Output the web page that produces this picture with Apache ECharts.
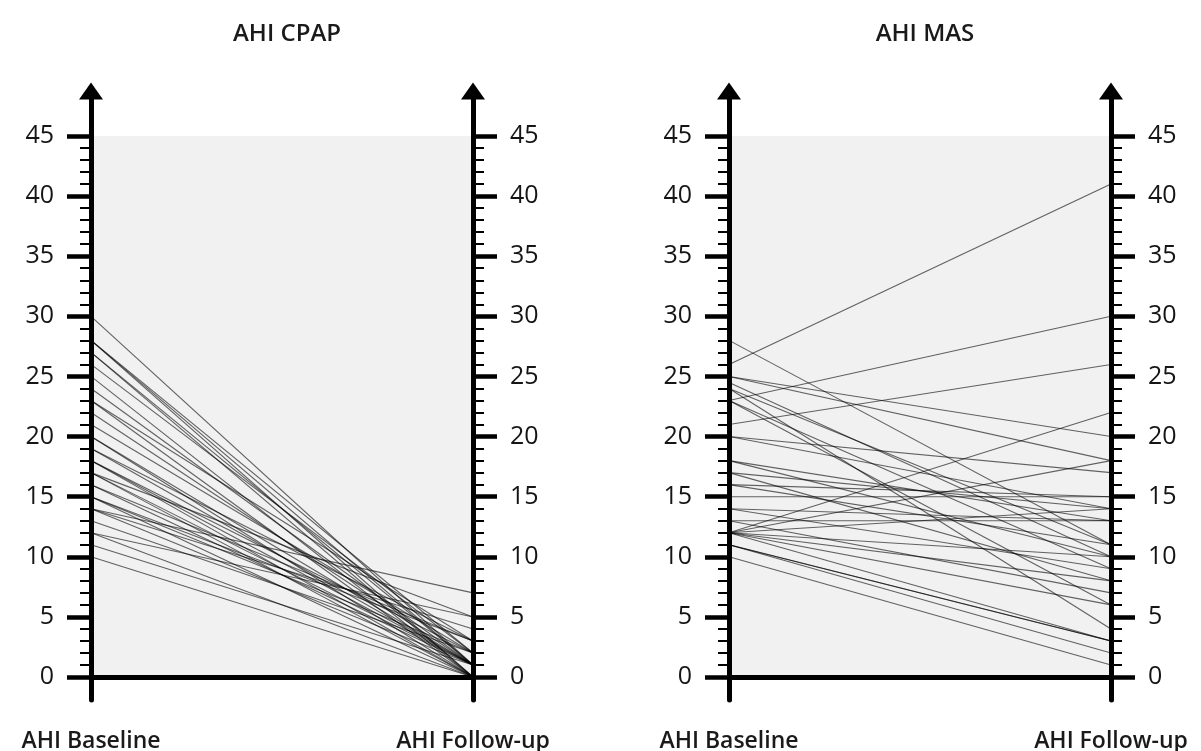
<!DOCTYPE html>
<html>
<head>
<meta charset="utf-8">
<script src="https://cdn.jsdelivr.net/npm/echarts@6/dist/echarts.min.js"></script>
<style>
html,body{margin:0;padding:0;background:#fff;}
#chart{width:1201px;height:751px;}
</style>
</head>
<body>
<div id="chart"></div>
<script>
// ---- data ----
const panelTitles = ['AHI CPAP', 'AHI MAS'];
const categories = ['AHI Baseline', 'AHI Follow-up'];
const majorTicks = [0, 5, 10, 15, 20, 25, 30, 35, 40, 45];
const minorTicks = [0,1,2,3,4,5,6,7,8,9,10,11,12,13,14,15,16,17,18,19,20,21,22,23,24,25,26,27,28,29,30,31,32,33,34,35,36,37,38,39,40,41,42,43,44,45];

// CPAP: baseline / follow-up pairs
const cpapBaseline = [30,28,28,28,27,27,26,25,24,23,23,22,21,20,20,19,19,18,18,18,17,17,17,16,16,15,15,15,14,14,14,13,12,12,11,10];
const cpapFollowup = [ 1, 0, 1, 2, 0, 1, 2, 0, 1, 0, 3, 1, 2, 1, 0, 3, 1, 2, 0, 1, 5, 1, 0, 3, 1, 2, 0, 3, 7, 1, 4, 2, 5, 0, 1, 0];

// MAS: baseline / follow-up pairs
const masBaseline = [28,26,25,25,24.5,24,24,23,23,23,21,20,20,18,18,17,17,16,16,15,14,14,13,13,12,12,12,12,12,12,11,11,11,10,12];
const masFollowup = [11,41,20,18,10,  4, 11,30, 6, 9,26,17,14,13,10,14, 8,15,11,15,13, 9,13, 7,22,18,10, 8, 3, 6, 3, 2, 3, 1,14];

// ---- chart ----
const yMin = -1.91, yMax = 48.74;
const grids = [
  { left: 91, top: 91, width: 382, height: 609 },
  { left: 729, top: 91, width: 382, height: 609 }
];
const fontFam = '"Open Sans", "Noto Sans", sans-serif';

const option = {
  animation: false,
  backgroundColor: '#ffffff',
  title: panelTitles.map((t, i) => ({
    text: t,
    left: grids[i].left + grids[i].width / 2,
    top: 17,
    textAlign: 'center',
    textStyle: { fontFamily: fontFam, fontSize: 24, fontWeight: 600, color: '#1a1a1a' }
  })),
  grid: grids.map(g => Object.assign({ outerBoundsMode: 'none', containLabel: false }, g)),
  xAxis: grids.map((g, i) => ({
    type: 'category',
    gridIndex: i,
    data: categories,
    boundaryGap: false,
    z: 5,
    axisLine: { show: true, onZero: true, onZeroAxisIndex: i * 4, lineStyle: { color: '#000', width: 5 } },
    axisTick: { show: false },
    axisLabel: { show: true, margin: 30, fontFamily: fontFam, fontSize: 23, fontWeight: 600, color: '#1a1a1a' },
    splitLine: { show: false }
  })),
  yAxis: [],
  series: []
};

function addYAxes(gi) {
  ['left', 'right'].forEach(pos => {
    option.yAxis.push({
      type: 'value', gridIndex: gi, position: pos, min: yMin, max: yMax, z: 5,
      axisLine: { show: true, symbol: ['none', 'triangle'], symbolSize: [24, 17], lineStyle: { color: '#000', width: 5 } },
      axisTick: { show: true, customValues: majorTicks, length: 24, lineStyle: { color: '#000', width: 4.5 } },
      axisLabel: { show: true, customValues: majorTicks, margin: 37, fontFamily: fontFam, fontSize: 25, fontWeight: 500, color: '#151515' },
      splitLine: { show: false }
    });
    option.yAxis.push({
      type: 'value', gridIndex: gi, position: pos, min: yMin, max: yMax, z: 5,
      axisLine: { show: false },
      axisTick: { show: true, customValues: minorTicks, length: 11, lineStyle: { color: '#000', width: 2 } },
      axisLabel: { show: false },
      splitLine: { show: false }
    });
  });
}
addYAxes(0);
addYAxes(1);

[[cpapBaseline, cpapFollowup], [masBaseline, masFollowup]].forEach((pair, gi) => {
  option.series.push({
    type: 'line', xAxisIndex: gi, yAxisIndex: gi * 4, data: [], silent: true, z: 1,
    markArea: {
      silent: true, z: 1,
      itemStyle: { color: '#f1f1f1' },
      data: [[{ yAxis: 0 }, { yAxis: 45 }]]
    }
  });
  pair[0].forEach((b, k) => {
    option.series.push({
      type: 'line', xAxisIndex: gi, yAxisIndex: gi * 4, z: 3,
      data: [[0, b], [1, pair[1][k]]],
      symbol: 'none', silent: true,
      lineStyle: { color: 'rgba(0,0,0,0.6)', width: 1.1 }
    });
  });
});

const chart = echarts.init(document.getElementById('chart'), null, { renderer: 'canvas' });
chart.setOption(option);
</script>
</body>
</html>
